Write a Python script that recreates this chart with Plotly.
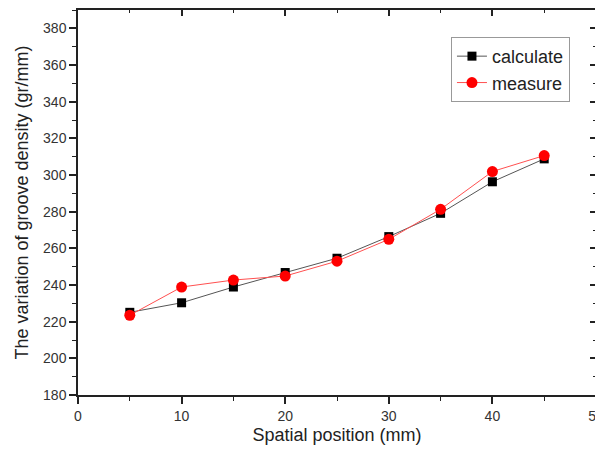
import plotly.graph_objects as go

x = [5, 10, 15, 20, 25, 30, 35, 40, 45]
calculate = [225.1, 230.3, 238.9, 246.8, 254.6, 266.4, 279.1, 296.3, 308.8]
measure = [223.5, 238.9, 242.7, 244.9, 253.0, 264.9, 281.3, 301.9, 310.6]

x_range = [0, 50]
y_range = [180, 390]

fig = go.Figure()
fig.add_trace(go.Scatter(x=x, y=calculate, name="calculate", mode="lines+markers",
                         line=dict(color="#555555", width=1),
                         marker=dict(symbol="square", size=9, color="black")))
fig.add_trace(go.Scatter(x=x, y=measure, name="measure", mode="lines+markers",
                         line=dict(color="#ff5050", width=1),
                         marker=dict(symbol="circle", size=11, color="red")))
# invisible trace for mirrored inside ticks
fig.add_trace(go.Scatter(x=[x[0]], y=[calculate[0]], xaxis="x2", yaxis="y2",
                         mode="markers", marker=dict(opacity=0), showlegend=False,
                         hoverinfo="skip"))

font = dict(family="Arial, Liberation Sans, sans-serif", color="#222222")
ax_line = dict(showgrid=False, zeroline=False, linecolor="#222222",
               linewidth=1.5, tickcolor="#222222", tickwidth=1.5, automargin=False,
               tickfont=dict(size=14, color="#333333"))

# page body has an 8px margin; figure sized to fit the 603x453 window
fig.update_layout(
    width=595, height=437,
    margin=dict(l=70, r=7, t=2, b=50, autoexpand=False),
    paper_bgcolor="white", plot_bgcolor="white",
    font=font,
    xaxis=dict(range=x_range, dtick=10, ticks="outside", ticklen=7, showline=True, mirror=True,
               ticklabeloverflow="allow",
               minor=dict(ticks="outside", ticklen=4, dtick=5, tickcolor="#222222", tickwidth=1),
               title=dict(text="Spatial position (mm)", font=dict(size=18), standoff=6),
               **ax_line),
    yaxis=dict(range=y_range, tick0=180, dtick=20, ticks="outside", ticklen=7, showline=True, mirror=True,
               minor=dict(ticks="outside", ticklen=4, dtick=10, tickcolor="#222222", tickwidth=1),
               title=dict(text="The variation of groove density (gr/mm)", font=dict(size=18), standoff=10),
               **ax_line),
    xaxis2=dict(range=x_range, dtick=10, ticks="inside", ticklen=6, overlaying="x", side="top",
                anchor="y", showticklabels=False, showline=False,
                minor=dict(ticks="inside", ticklen=3, dtick=5, tickcolor="#222222", tickwidth=1),
                **ax_line),
    yaxis2=dict(range=y_range, tick0=180, dtick=20, ticks="inside", ticklen=6, overlaying="y",
                side="right", anchor="x", showticklabels=False, showline=False,
                minor=dict(ticks="inside", ticklen=3, dtick=10, tickcolor="#222222", tickwidth=1),
                **ax_line),
    legend=dict(x=0.72, y=0.93, xanchor="left", yanchor="top",
                bordercolor="#999999", borderwidth=1, bgcolor="white",
                font=dict(size=18, color="#222222"), tracegroupgap=0),
    showlegend=True,
)

fig.write_html("out.html")
